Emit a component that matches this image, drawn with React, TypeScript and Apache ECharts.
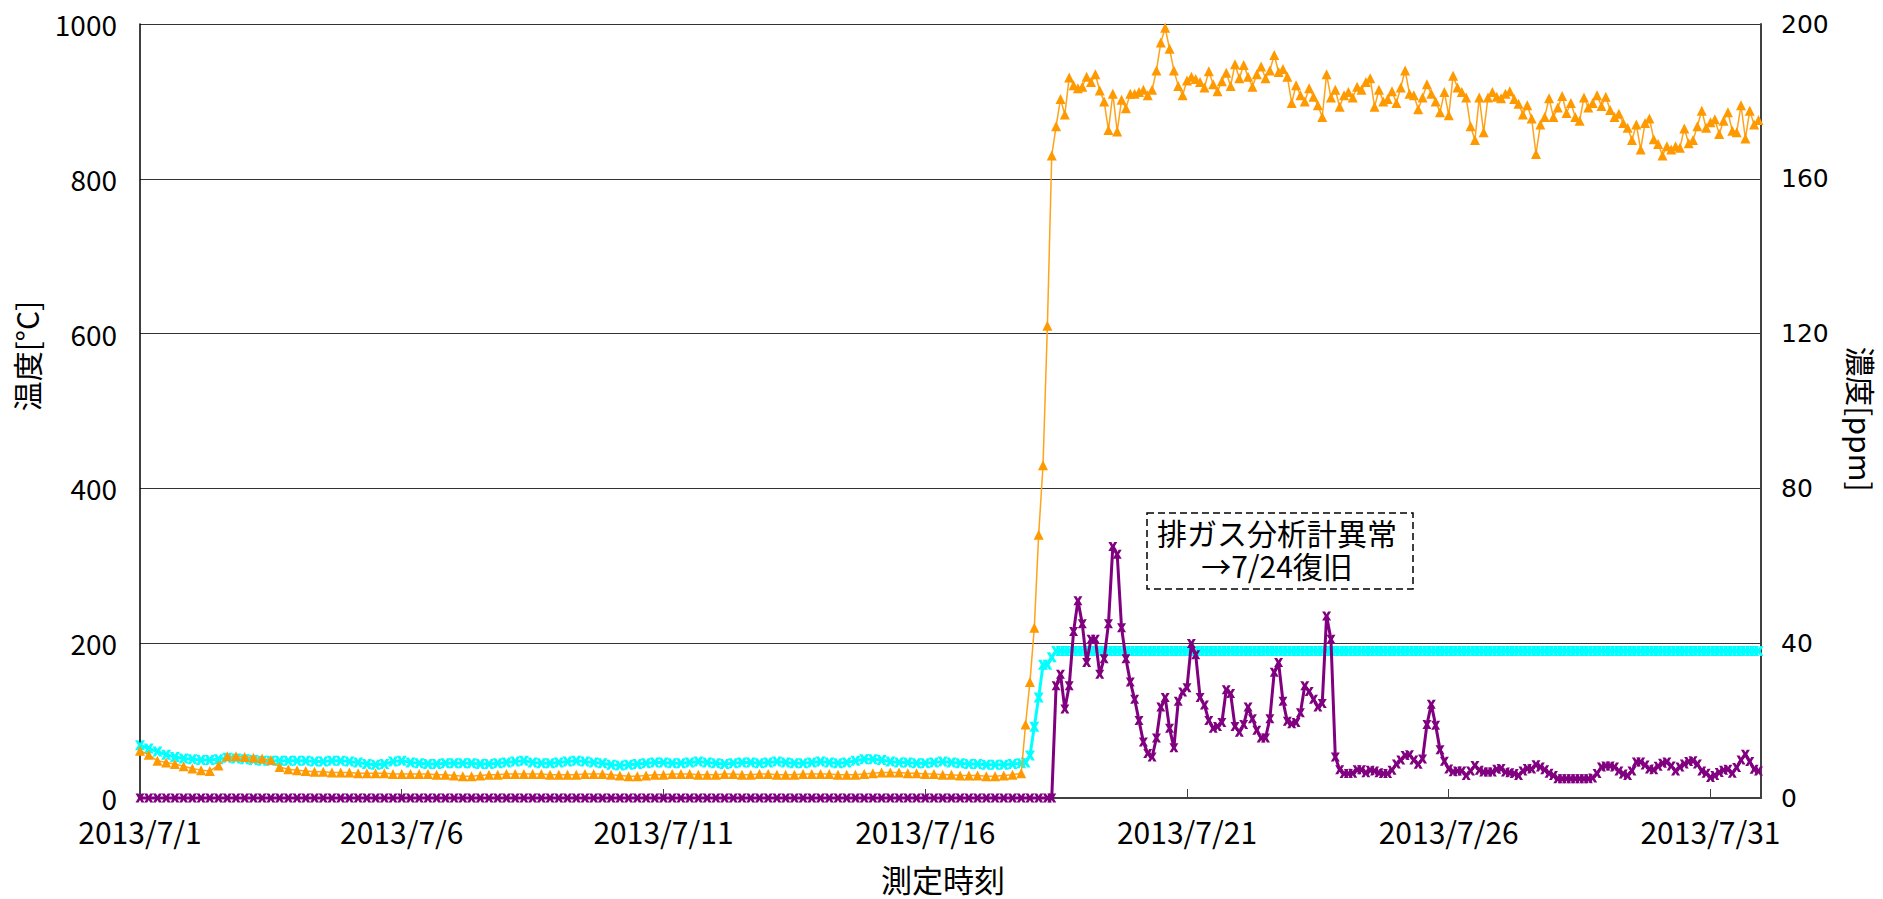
import React, { useEffect, useRef } from 'react';
import * as echarts from 'echarts';

const FONT = '"Noto Sans CJK JP", "Noto Sans", sans-serif';
const WIDE_FONT = '"DejaVu Sans", sans-serif';

// x-axis tick labels (every 5 days from 2013/7/1)
const DAY_TICKS = ['2013/7/1', '2013/7/6', '2013/7/11', '2013/7/16', '2013/7/21', '2013/7/26', '2013/7/31'];

// Orange temperature (°C), 4-hour samples from 7/1 00:00 to 7/17 16:00
const orangeEarly = [
  61, 56, 48, 46, 44, 41,
  38, 36, 35, 42, 54, 54,
  53, 52, 51, 49, 40, 37,
  36, 35, 34, 34, 33, 33,
  33, 32, 32, 32, 32, 31,
  31, 31, 31, 31, 30, 30,
  29, 28, 28, 29, 30, 30,
  31, 31, 31, 31, 31, 30,
  30, 30, 30, 31, 31, 31,
  30, 29, 28, 28, 29, 30,
  30, 31, 31, 31, 30, 30,
  30, 31, 31, 30, 30, 31,
  31, 30, 30, 30, 31, 31,
  31, 31, 30, 30, 30, 31,
  32, 33, 33, 33, 32, 32,
  31, 31, 30, 30, 29, 29,
  29, 28, 28, 29, 30,
];

// Orange temperature (°C), 2-hour samples from 7/17 20:00 to 7/31 22:00
const orangeActive = [
  32, 95, 150, 220, 340, 430, 610, 830, 868, 903,
  883, 931, 921, 917, 919, 932, 925, 935, 914, 900,
  863, 910, 861, 902, 891, 910, 910, 912, 915, 908,
  915, 940, 976, 995, 968, 940, 920, 908, 927, 932,
  929, 925, 918, 939, 922, 913, 926, 937, 920, 948,
  930, 947, 932, 919, 935, 945, 930, 940, 960, 938,
  942, 932, 898, 921, 908, 900, 917, 906, 895, 880,
  935, 905, 915, 893, 908, 912, 905, 919, 915, 925,
  930, 893, 915, 900, 903, 913, 898, 918, 940, 910,
  908, 890, 905, 922, 910, 900, 886, 912, 882, 933,
  918, 912, 905, 868, 850, 905, 860, 905, 912, 906,
  904, 910, 913, 903, 897, 883, 895, 878, 832, 870,
  880, 904, 880, 892, 907, 885, 898, 880, 875, 905,
  892, 898, 908, 894, 906, 889, 880, 884, 872, 866,
  850, 870, 838, 872, 878, 851, 845, 830, 842, 838,
  842, 840, 865, 846, 850, 868, 888, 866, 873, 877,
  858, 875, 886, 862, 860, 895, 852, 888, 870, 876,
];

// Cyan temperature (°C), 4-hour samples from 7/1 00:00 to 7/17 16:00
const cyanEarly = [
  68, 64, 60, 56, 53, 51,
  50, 49, 49, 50, 52, 51,
  50, 49, 48, 48, 48, 48,
  48, 48, 47, 47, 48, 48,
  47, 46, 44, 43, 44, 47,
  48, 46, 45, 44, 44, 45,
  45, 45, 45, 44, 44, 45,
  46, 47, 48, 46, 45, 45,
  46, 47, 48, 47, 46, 45,
  43, 42, 43, 44, 45, 46,
  46, 45, 45, 46, 47, 46,
  45, 44, 45, 46, 46, 45,
  46, 47, 46, 45, 45, 46,
  47, 46, 45, 46, 48, 50,
  50, 49, 47, 46, 46, 45,
  45, 46, 47, 46, 45, 44,
  44, 43, 43, 43, 44,
];

// Cyan temperature (°C), 2-hour samples from 7/17 20:00 to 7/31 22:00
const cyanActive = [
  45, 46, 55, 92, 130, 172, 172, 182, 190,
  190, 190, 190, 190, 190, 190, 190, 190, 190, 190,
  190, 190, 190, 190, 190, 190, 190, 190, 190, 190,
  190, 190, 190, 190, 190, 190, 190, 190, 190, 190,
  190, 190, 190, 190, 190, 190, 190, 190, 190, 190,
  190, 190, 190, 190, 190, 190, 190, 190, 190, 190,
  190, 190, 190, 190, 190, 190, 190, 190, 190, 190,
  190, 190, 190, 190, 190, 190, 190, 190, 190, 190,
  190, 190, 190, 190, 190, 190, 190, 190, 190, 190,
  190, 190, 190, 190, 190, 190, 190, 190, 190, 190,
  190, 190, 190, 190, 190, 190, 190, 190, 190, 190,
  190, 190, 190, 190, 190, 190, 190, 190, 190, 190,
  190, 190, 190, 190, 190, 190, 190, 190, 190, 190,
  190, 190, 190, 190, 190, 190, 190, 190, 190, 190,
  190, 190, 190, 190, 190, 190, 190, 190, 190, 190,
  190, 190, 190, 190, 190, 190, 190, 190, 190, 190,
  190, 190, 190, 190, 190, 190, 190, 190, 190, 190,
  190,
];

// Purple concentration (ppm), 4-hour samples from 7/1 00:00 to 7/18 08:00
const purpleEarly = [
  0, 0, 0, 0, 0, 0, 0, 0, 0, 0,
  0, 0, 0, 0, 0, 0, 0, 0, 0, 0,
  0, 0, 0, 0, 0, 0, 0, 0, 0, 0,
  0, 0, 0, 0, 0, 0, 0, 0, 0, 0,
  0, 0, 0, 0, 0, 0, 0, 0, 0, 0,
  0, 0, 0, 0, 0, 0, 0, 0, 0, 0,
  0, 0, 0, 0, 0, 0, 0, 0, 0, 0,
  0, 0, 0, 0, 0, 0, 0, 0, 0, 0,
  0, 0, 0, 0, 0, 0, 0, 0, 0, 0,
  0, 0, 0, 0, 0, 0, 0, 0, 0, 0,
  0, 0, 0, 0, 0,
];

// Purple concentration (ppm), 2-hour samples from 7/18 10:00 to 7/31 22:00
const purpleActive = [
  0, 29, 32, 23, 29, 43, 51, 45, 35, 41,
  41, 32, 36, 45, 65, 63, 44, 36, 30, 25.5,
  20, 14.5, 11.5, 10.6, 15.5, 23.5, 26, 18, 13, 25,
  27.4, 28.5, 39.9, 37, 26, 24, 20, 18, 18.5, 19.5,
  28, 27, 18.5, 17, 19, 23.5, 20.5, 17.5, 15.5, 15.5,
  20.5, 32.5, 35, 25, 19.8, 19.2, 19.5, 22, 29, 27.5,
  25.5, 23.5, 24.4, 47, 41, 10.6, 7.3, 6.3, 6.3, 6.4,
  7.3, 7.3, 6.5, 7.2, 7.0, 6.5, 6.3, 6.3, 7.2, 8.8,
  9.8, 11, 11.2, 9.8, 8.7, 10.1, 19, 24.2, 18.8, 12.5,
  9.5, 7.5, 6.8, 7.0, 7.0, 5.8, 7.0, 8.4, 7.2, 6.7,
  6.7, 6.7, 7.4, 7.6, 6.7, 6.5, 6.3, 5.8, 7.0, 7.6,
  7.5, 8.6, 8.0, 7.3, 6.4, 5.8, 5.0, 5.0, 5.0, 5.0,
  5.0, 5.0, 5.0, 5.0, 5.2, 6.3, 8.0, 8.3, 8.3, 8.0,
  7.0, 6.2, 5.8, 7.0, 9.3, 9.3, 8.5, 7.5, 7.3, 8.2,
  9.0, 9.3, 8.3, 7.0, 8.0, 8.8, 9.4, 9.6, 8.8, 7.0,
  6.4, 5.3, 5.8, 6.6, 7.2, 7.4, 6.4, 7.9, 9.8, 11.3,
  9.4, 7.4, 7.0,
];

// segment start times (days after 2013/7/1 00:00) and sample steps (hours)
const EARLY_START = 0;
const EARLY_STEP_H = 4;
const ACTIVE_START = 16 + 20 / 24;
const PURPLE_ACTIVE_START = 17 + 10 / 24;
const ACTIVE_STEP_H = 2;

function seg(start: number, stepH: number, vals: number[]) {
  return vals.map((v, i) => [start + (i * stepH) / 24, v]);
}

const XSYM = 'path://M0 0H3.4L5 2.8L6.6 0H10L7 5L10 10H6.6L5 7.2L3.4 10H0L3 5Z';

export default function App() {
  const ref = useRef<HTMLDivElement>(null);
  useEffect(() => {
    const chart = echarts.init(ref.current as HTMLDivElement, null, { renderer: 'svg' });
    const orangeData = [...seg(EARLY_START, EARLY_STEP_H, orangeEarly), ...seg(ACTIVE_START, ACTIVE_STEP_H, orangeActive)];
    const cyanData = [...seg(EARLY_START, EARLY_STEP_H, cyanEarly), ...seg(ACTIVE_START, ACTIVE_STEP_H, cyanActive)];
    const purpleData = [...seg(EARLY_START, EARLY_STEP_H, purpleEarly), ...seg(PURPLE_ACTIVE_START, ACTIVE_STEP_H, purpleActive)];

    const center = { textAlign: 'center', textVerticalAlign: 'middle', align: 'center', verticalAlign: 'middle' };

    chart.setOption({
      animation: false,
      backgroundColor: '#ffffff',
      textStyle: { fontFamily: FONT },
      grid: { left: 140, right: 122, top: 24, bottom: 101, containLabel: false },
      xAxis: {
        type: 'value',
        min: 0,
        max: 30.965,
        interval: 5,
        axisLine: { show: true, onZero: false, lineStyle: { color: '#404040', width: 2 } },
        axisTick: { show: true, inside: true, length: 9, lineStyle: { color: '#404040', width: 1 } },
        axisLabel: {
          color: '#000',
          fontSize: 30,
          fontFamily: FONT,
          margin: 18,
          formatter: (v: number) => {
            const k = Math.round(v / 5);
            return Math.abs(v - k * 5) < 1e-6 && DAY_TICKS[k] ? DAY_TICKS[k] : '';
          },
        },
        splitLine: { show: false },
      },
      yAxis: [
        {
          type: 'value',
          min: 0,
          max: 1000,
          interval: 200,
          position: 'left',
          axisLine: { show: true, lineStyle: { color: '#000', width: 1.5 } },
          axisTick: { show: false },
          axisLabel: { color: '#000', fontSize: 28, fontFamily: FONT, margin: 23, formatter: (v: number) => String(v) },
          splitLine: { show: true, lineStyle: { color: '#333', width: 1.2 } },
        },
        {
          type: 'value',
          min: 0,
          max: 200,
          interval: 40,
          position: 'right',
          axisLine: { show: true, lineStyle: { color: '#404040', width: 2 } },
          axisTick: { show: false },
          axisLabel: { color: '#000', fontSize: 25, fontFamily: WIDE_FONT, margin: 20, formatter: (v: number) => String(v) },
          splitLine: { show: false },
        },
      ],
      series: [
        {
          name: 'cyan',
          type: 'line',
          yAxisIndex: 0,
          data: cyanData,
          symbol: XSYM,
          symbolSize: 10,
          clip: false,
          silent: true,
          z: 2,
          itemStyle: { color: '#00FFFF' },
          lineStyle: { color: '#00FFFF', width: 3 },
        },
        {
          name: 'orange',
          type: 'line',
          yAxisIndex: 0,
          data: orangeData,
          symbol: 'triangle',
          symbolSize: 10,
          clip: false,
          silent: true,
          z: 3,
          itemStyle: { color: '#FF9900' },
          lineStyle: { color: '#FFA31A', width: 1.5 },
        },
        {
          name: 'purple',
          type: 'line',
          yAxisIndex: 1,
          data: purpleData,
          symbol: XSYM,
          symbolSize: 9,
          clip: false,
          silent: true,
          z: 4,
          itemStyle: { color: '#800080' },
          lineStyle: { color: '#800080', width: 3 },
        },
      ],
      graphic: [
        {
          type: 'text',
          x: 26,
          y: 356,
          rotation: Math.PI / 2,
          style: { text: '温度[°C]', fontSize: 30, fontFamily: FONT, fill: '#000', ...center },
        },
        {
          type: 'text',
          x: 1862,
          y: 419,
          rotation: -Math.PI / 2,
          style: { text: '濃度[ppm]', fontSize: 30, fontFamily: FONT, fill: '#000', ...center },
        },
        {
          type: 'text',
          x: 943,
          y: 878,
          style: { text: '測定時刻', fontSize: 31, fontFamily: FONT, fill: '#000', ...center },
        },
        {
          type: 'rect',
          shape: { x: 1147, y: 513, width: 266, height: 76 },
          style: { fill: '#fff', stroke: '#000', lineWidth: 1.5, lineDash: [7, 4] },
          z: 10,
        },
        {
          type: 'text',
          x: 1277,
          y: 532,
          z: 11,
          style: { text: '排ガス分析計異常', fontSize: 30, fontFamily: FONT, fill: '#000', ...center },
        },
        {
          type: 'text',
          x: 1277,
          y: 565,
          z: 11,
          style: { text: '→7/24復旧', fontSize: 30, fontFamily: FONT, fill: '#000', ...center },
        },
      ],
    });
    return () => chart.dispose();
  }, []);
  return <div ref={ref} style={{ position: 'fixed', left: 0, top: 0, width: 1883, height: 899, background: '#fff' }} />;
}
